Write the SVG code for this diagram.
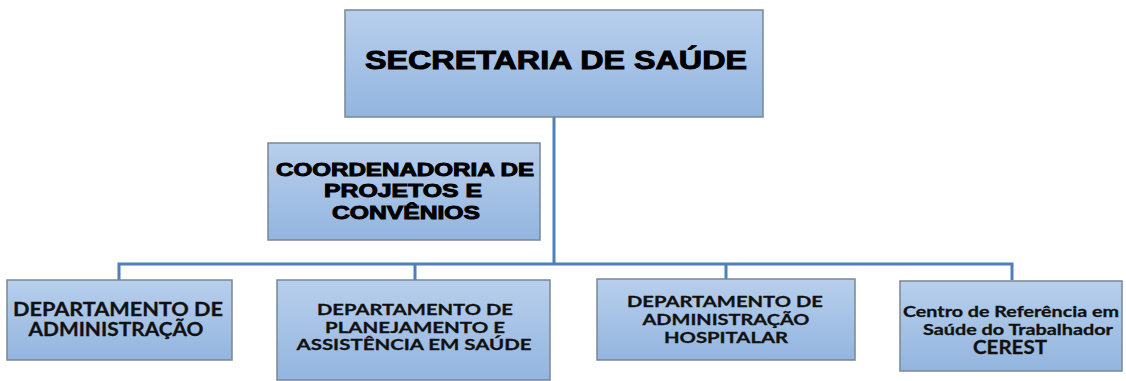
<svg xmlns="http://www.w3.org/2000/svg" width="1126" height="381" viewBox="0 0 1126 381">
<defs>
<linearGradient id="g" x1="0" y1="0" x2="0" y2="1">
<stop offset="0" stop-color="#b8cfec"/>
<stop offset="1" stop-color="#93b5df"/>
</linearGradient>
<style>
.box{fill:url(#g);stroke:#7a8795;stroke-width:1.5}
.conn{fill:none;stroke:#4f7fb8;stroke-width:3}
.blk{font-family:"Liberation Sans",Arial,sans-serif;font-weight:bold;fill:#000;stroke:#000;stroke-width:0.9;text-anchor:middle}
.cal{font-family:Lato,"Open Sans",sans-serif;font-weight:700;fill:#111;stroke:#111;stroke-width:0.3;text-anchor:middle}
</style>
</defs>
<rect width="1126" height="381" fill="#fff"/>
<g id="connectors">
<path class="conn" d="M554 117 V264"/>
<path class="conn" d="M119 280 V264 H1012 V280"/>
<path class="conn" d="M415 264 V280"/>
<path class="conn" d="M726 264 V280"/>
</g>
<g id="secretaria">
<rect class="box" x="345" y="10" width="418" height="107"/>
<text class="blk" x="556" y="69" font-size="25" textLength="382" lengthAdjust="spacingAndGlyphs">SECRETARIA DE SAÚDE</text>
</g>
<g id="coordenadoria">
<rect class="box" x="268" y="143" width="272" height="97"/>
<text class="blk" x="405" y="176" font-size="17.5" textLength="258" lengthAdjust="spacingAndGlyphs">COORDENADORIA DE</text>
<text class="blk" x="403" y="197" font-size="17.5" textLength="158" lengthAdjust="spacingAndGlyphs">PROJETOS E</text>
<text class="blk" x="406" y="219" font-size="17.5" textLength="148" lengthAdjust="spacingAndGlyphs">CONVÊNIOS</text>
</g>
<g id="dep-administracao">
<rect class="box" x="7" y="280" width="225" height="80"/>
<text class="cal" x="118" y="316" font-size="18" textLength="210" lengthAdjust="spacingAndGlyphs">DEPARTAMENTO DE</text>
<text class="cal" x="116" y="336" font-size="18" textLength="175" lengthAdjust="spacingAndGlyphs">ADMINISTRAÇÃO</text>
</g>
<g id="dep-planejamento">
<rect class="box" x="277" y="280" width="273" height="100"/>
<text class="cal" x="415" y="315" font-size="16" textLength="196" lengthAdjust="spacingAndGlyphs">DEPARTAMENTO DE</text>
<text class="cal" x="415" y="332.5" font-size="16" textLength="180" lengthAdjust="spacingAndGlyphs">PLANEJAMENTO E</text>
<text class="cal" x="414" y="350" font-size="16" textLength="235" lengthAdjust="spacingAndGlyphs">ASSISTÊNCIA EM SAÚDE</text>
</g>
<g id="dep-hospitalar">
<rect class="box" x="597" y="279" width="258" height="81"/>
<text class="cal" x="725" y="307" font-size="16" textLength="196" lengthAdjust="spacingAndGlyphs">DEPARTAMENTO DE</text>
<text class="cal" x="726" y="325" font-size="16" textLength="167" lengthAdjust="spacingAndGlyphs">ADMINISTRAÇÃO</text>
<text class="cal" x="726" y="343" font-size="16" textLength="124" lengthAdjust="spacingAndGlyphs">HOSPITALAR</text>
</g>
<g id="cerest">
<rect class="box" x="900" y="281" width="222" height="90"/>
<text class="cal" x="1011" y="317" font-size="15" textLength="216" lengthAdjust="spacingAndGlyphs">Centro de Referência em</text>
<text class="cal" x="1018" y="334.5" font-size="15" textLength="190" lengthAdjust="spacingAndGlyphs">Saúde do Trabalhador</text>
<text class="cal" x="1010" y="354" font-size="18" textLength="74" lengthAdjust="spacingAndGlyphs">CEREST</text>
</g>
</svg>
